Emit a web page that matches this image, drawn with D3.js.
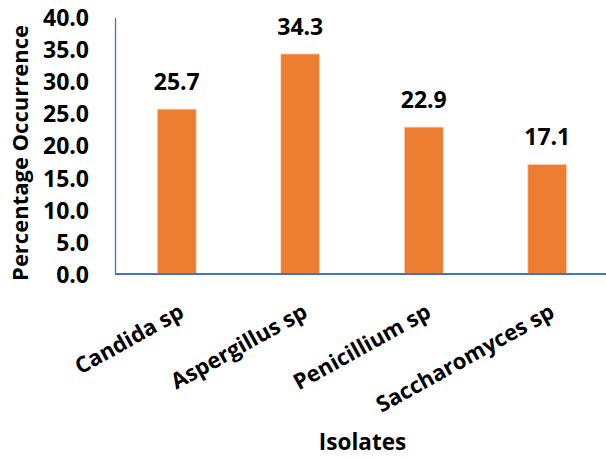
<!DOCTYPE html>
<html>
<head>
<meta charset="utf-8">
<script src="https://cdn.jsdelivr.net/npm/d3@7"></script>
<style>
  html, body { margin: 0; padding: 0; background: #fff; }
  svg text { font-family: "Open Sans", Lato, sans-serif; font-weight: 700; fill: #000; }
</style>
</head>
<body>
<div id="chart"></div>
<script>
// datos del gráfico
const isolates = ["Candida sp", "Aspergillus sp", "Penicillium sp", "Saccharomyces sp"];
const occurrence = [25.7, 34.3, 22.9, 17.1];
const yTicks = [0, 5, 10, 15, 20, 25, 30, 35, 40];

const ancho = 606, alto = 457;
const axisColor = "#4472C4";
const barColor = "#ED7D31";

const svg = d3.select("#chart").append("svg")
    .attr("width", ancho)
    .attr("height", alto);

// escalas
const x = d3.scaleBand()
    .domain(isolates)
    .range([115, 609])
    .paddingInner(0.684)
    .paddingOuter(0.342);

const y = d3.scaleLinear()
    .domain([0, 40])
    .range([274, 17.3]);

// barras
svg.selectAll("rect.bar")
    .data(isolates)
    .enter()
    .append("rect")
    .attr("class", "bar")
    .attr("x", d => x(d))
    .attr("width", x.bandwidth())
    .attr("y", (d, i) => y(occurrence[i]))
    .attr("height", (d, i) => y(0) - y(occurrence[i]))
    .attr("fill", barColor)
    .attr("stroke", "#fbe2d2")
    .attr("stroke-width", 0.8);

// eje Y (sin marcas, solo la línea y las etiquetas)
const yAxis = svg.append("g")
    .attr("transform", "translate(115,0)")
    .call(d3.axisLeft(y).tickValues(yTicks).tickFormat(d3.format(".1f")).tickSize(0).tickPadding(26));
yAxis.select(".domain").attr("stroke", axisColor).attr("stroke-width", 1.3);
yAxis.selectAll(".tick text")
    .style("font-size", "23px")
    .attr("dy", "0.36em");

// eje X: línea hasta el borde
svg.append("line")
    .attr("x1", 115).attr("x2", ancho)
    .attr("y1", y(0)).attr("y2", y(0))
    .attr("stroke", axisColor)
    .attr("stroke-width", 2);

// etiquetas de categorías giradas
svg.selectAll("text.cat")
    .data(isolates)
    .enter()
    .append("text")
    .attr("class", "cat")
    .attr("text-anchor", "end")
    .attr("dy", "0.72em")
    .attr("transform", d => `translate(${x(d) + x.bandwidth() / 2 + 1}, 302.5) rotate(-29)`)
    .style("font-size", "22px")
    .text(d => d);

// valores sobre las barras
svg.selectAll("text.val")
    .data(isolates)
    .enter()
    .append("text")
    .attr("class", "val")
    .attr("text-anchor", "middle")
    .attr("x", d => x(d) + x.bandwidth() / 2)
    .attr("y", (d, i) => y(occurrence[i]) - 19)
    .style("font-size", "23px")
    .text((d, i) => d3.format(".1f")(occurrence[i]));

// títulos de ejes
svg.append("text")
    .attr("text-anchor", "middle")
    .attr("transform", "translate(28,153) rotate(-90)")
    .style("font-size", "22px")
    .text("Percentage Occurrence");

svg.append("text")
    .attr("text-anchor", "middle")
    .attr("x", 362.5)
    .attr("y", 450)
    .style("font-size", "22.5px")
    .text("Isolates");
</script>
</body>
</html>
